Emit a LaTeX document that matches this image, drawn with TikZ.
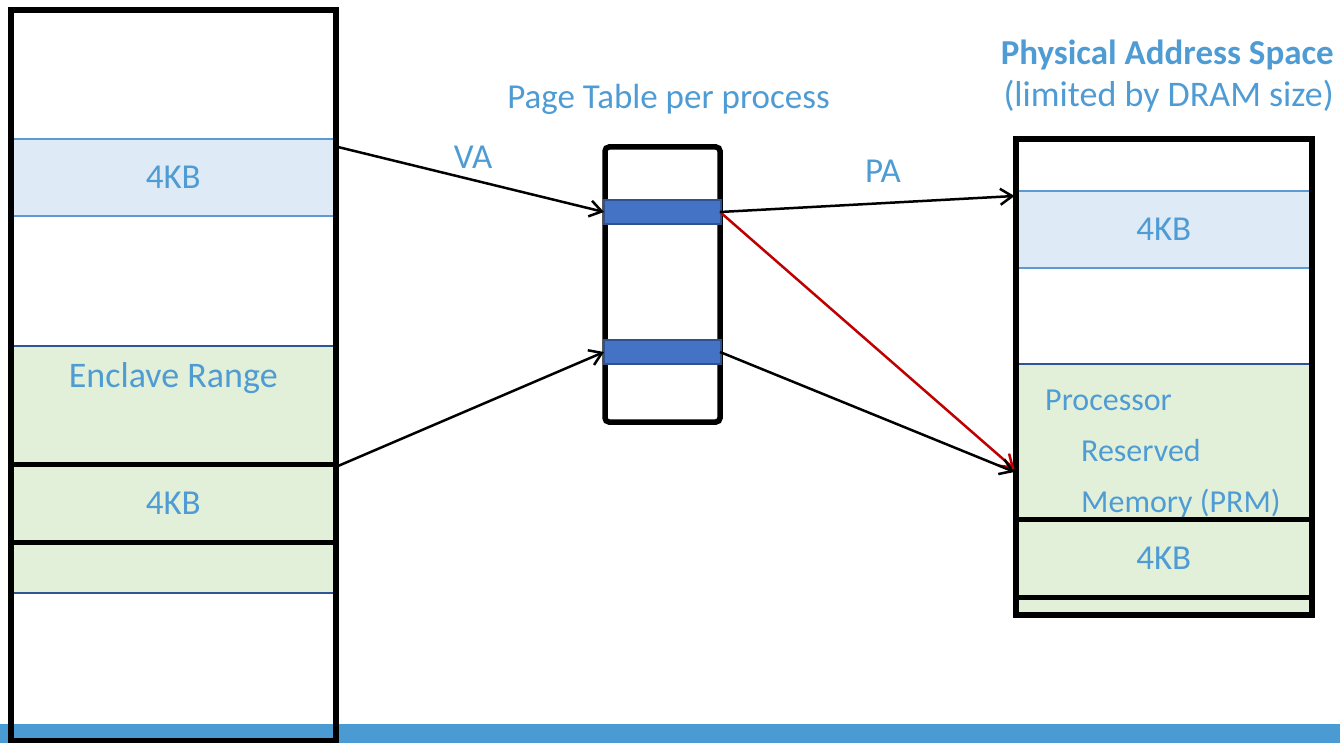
\documentclass[tikz,border=0pt]{standalone}
\usepackage{fontspec}
\setmainfont{Carlito}
\usetikzlibrary{arrows.meta,calc}

\definecolor{labelblue}{RGB}{79,156,213}
\definecolor{pagefill}{RGB}{222,235,247}
\definecolor{pageline}{RGB}{91,155,213}
\definecolor{enclfill}{RGB}{226,240,217}
\definecolor{encline}{RGB}{47,85,151}
\definecolor{ptefill}{RGB}{68,114,196}
\definecolor{pteline}{RGB}{47,82,143}
\definecolor{barblue}{RGB}{74,155,211}
\definecolor{mapred}{RGB}{192,0,0}

\tikzset{
  region/.style={rectangle, inner sep=0pt, outer sep=0pt},
  txt/.style={text=labelblue, inner sep=0pt, font=\fontsize{35}{42}\selectfont},
  prmtxt/.style={txt, anchor=base west, font=\fontsize{32}{38}\selectfont},
  column/.style={region, draw=black, line width=6pt},
  pageband/.style={region, fill=pagefill, draw=pageline, line width=1.5pt, txt},
  enclband/.style={region, fill=enclfill, draw=encline, line width=2pt},
  securepage/.style={region, draw=black, line width=5pt, txt},
  pte/.style={region, fill=ptefill, draw=pteline, line width=1.5pt},
  map/.style={line width=2.5pt, -{Straight Barb[length=12pt,width=16pt,line width=2.5pt]}},
}

\begin{document}
\begin{tikzpicture}[x=1pt, y=-1pt]
  \useasboundingbox (0,0) rectangle (1340,743);

  % footer bar
  \fill[barblue] (0,724) rectangle (1340,743);

  % virtual address space
  \node[pageband, minimum width=325.5pt, minimum height=77pt] (lband) at (173.25,177.5) {4KB};
  \node[enclband, minimum width=325.5pt, minimum height=247pt] (lencl) at (173.25,469.5) {};
  \node[securepage, minimum width=325.5pt, minimum height=78pt] (lpage) at (173.25,503) {4KB};
  \node[column, minimum width=325.5pt, minimum height=731pt] (lcol) at (173.25,375.5) {};
  \node[txt, anchor=base, font=\fontsize{36}{43}\selectfont] (enclabel) at (173.25,387) {Enclave Range};

  % page table
  \node[region, draw=black, line width=5.5pt, rounded corners=4pt,
        minimum width=115pt, minimum height=275pt] (ptab) at (662.5,284.5) {};
  \node[pte, minimum width=117pt, minimum height=24pt] (pte1) at (662.5,212) {};
  \node[pte, minimum width=117pt, minimum height=24pt] (pte2) at (662.5,352) {};
  \node[txt, anchor=base] (ptitle) at (668.5,109) {Page Table per process};

  % physical address space
  \node[pageband, minimum width=296.5pt, minimum height=77pt] (rband) at (1163.75,229.5) {4KB};
  \node[enclband, minimum width=296.5pt, minimum height=251pt] (rprm) at (1163.75,489.5) {};
  \node[securepage, minimum width=296.5pt, minimum height=78pt] (rpage) at (1163.75,558) {4KB};
  \node[column, minimum width=296.5pt, minimum height=476pt] (rcol) at (1163.75,377) {};
  \node[prmtxt] (prm1) at (1045,410) {Processor};
  \node[prmtxt] (prm2) at (1081,461) {Reserved};
  \node[prmtxt] (prm3) at (1081,512) {Memory (PRM)};
  \node[txt, anchor=base east, font=\fontsize{35}{42}\selectfont\bfseries] (rtitle) at (1334,65) {Physical Address Space};
  \node[txt, anchor=base east, font=\fontsize{36}{43}\selectfont] (rsub) at (1334,107) {(limited by DRAM size)};

  % translations
  \draw[map] ($(lband.north east)+(2,8)$) -- (pte1.west);
  \draw[map] ($(lpage.north east)+(2,2)$) -- (pte2.west);
  \draw[map, draw=mapred] ($(pte1.east)+(-1,0)$) -- ($(rprm.north west)+(-1,105)$);
  \draw[map] ($(pte1.east)+(-1,0)$) -- ($(rband.north west)+(-1,5)$);
  \draw[map] ($(pte2.east)+(-1,0)$) -- ($(rprm.north west)+(-1,108)$);
  \node[txt, anchor=base] (va) at (473,169) {VA};
  \node[txt, anchor=base] (pa) at (883,183) {PA};
\end{tikzpicture}
\end{document}
